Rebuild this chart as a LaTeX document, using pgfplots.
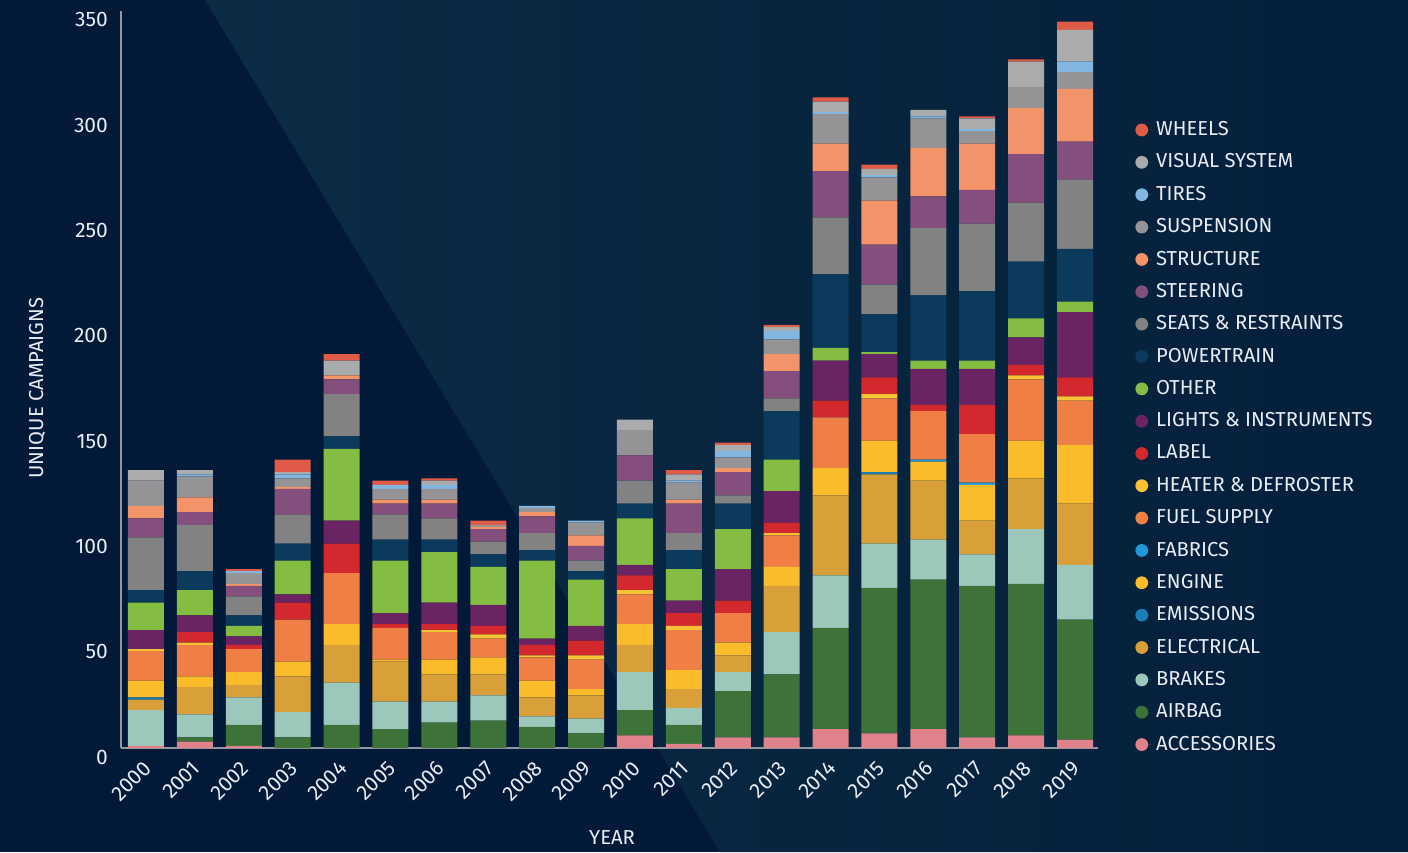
\documentclass[border=0pt]{standalone}
\usepackage{fontspec}
\setmainfont{Fira Sans}
\usepackage{pgfplots}
\usepackage{pgfplotstable}
\pgfplotsset{compat=1.18}
\definecolor{bgdark}{HTML}{021A38}
\definecolor{bglight}{HTML}{0C2B45}
\definecolor{bgright}{HTML}{041F3B}
\definecolor{axisgray}{HTML}{9297A0}
\definecolor{txt}{HTML}{E8EDF3}
\definecolor{cAcc}{HTML}{E0828C}
\definecolor{cAir}{HTML}{3D7239}
\definecolor{cBrk}{HTML}{9BC8BB}
\definecolor{cEle}{HTML}{D9A03A}
\definecolor{cEmi}{HTML}{1C7EB4}
\definecolor{cEng}{HTML}{FBBC2C}
\definecolor{cFab}{HTML}{2196DA}
\definecolor{cFue}{HTML}{EF7F45}
\definecolor{cHea}{HTML}{F9C235}
\definecolor{cLab}{HTML}{D3282D}
\definecolor{cLig}{HTML}{6B2463}
\definecolor{cOth}{HTML}{84BD42}
\definecolor{cPow}{HTML}{0B3A5D}
\definecolor{cSea}{HTML}{828282}
\definecolor{cSte}{HTML}{844E7D}
\definecolor{cStr}{HTML}{F39369}
\definecolor{cSus}{HTML}{949496}
\definecolor{cTir}{HTML}{84B6E2}
\definecolor{cVis}{HTML}{AAABAD}
\definecolor{cWhe}{HTML}{E05A48}
\pgfplotstableread{
x  acc air brk ele emi eng fab fue hea lab lig oth pow sea ste str sus tir vis whe
0  1   0   17  5   1   8   0   14  1   0   9   13  6   25  9   6   12  0   5   0
1  3   2   11  13  0   5   0   15  1   5   8   12  9   22  6   7   10  1   2   0
2  1   10  13  6   0   6   0   11  0   2   4   5   5   9   5   1   5   1   0   1
3  0   5   12  17  0   7   0   20  0   8   4   16  8   14  12  1   4   2   1   6
4  0   11  20  18  0   10  0   24  0   14  11  34  6   20  7   2   0   0   7   3
5  0   9   13  19  0   1   0   15  0   2   5   25  10  12  5   2   5   2   0   2
6  0   12  10  13  0   7   0   13  1   3   10  24  6   10  7   2   5   2   2   1
7  0   13  12  10  0   8   0   9   2   4   10  18  6   6   6   1   1   0   0   2
8  0   10  5   9   0   8   0   11  1   5   3   37  5   8   8   2   2   1   0   0
9  0   7   7   11  0   3   0   14  2   7   7   22  4   5   7   5   6   1   0   0
10 6   12  18  13  0   10  0   14  2   7   5   22  7   11  12  0   12  0   5   0
11 2   9   8   9   0   9   0   19  2   6   6   15  9   8   14  2   8   1   3   2
12 5   22  9   8   0   6   0   14  0   6   15  19  12  4   11  2   5   3   3   1
13 5   30  20  22  0   9   0   15  1   5   15  15  23  6   13  8   7   4   2   1
14 9   48  25  38  0   13  0   24  0   8   19  6   35  27  22  13  14  1   5   2
15 7   69  21  33  1   15  0   20  2   8   11  1   18  14  19  21  11  1   3   2
16 9   71  19  28  0   9   1   23  0   3   17  4   31  32  15  23  14  1   3   0
17 5   72  15  16  0   17  1   23  0   14  17  4   33  32  16  22  6   1   5   1
18 6   72  26  24  0   18  0   29  2   5   13  9   27  28  23  22  10  0   12  1
19 4   57  26  29  0   28  0   21  2   9   31  5   25  33  18  25  8   5   15  4
}\data
\begin{document}
\begin{tikzpicture}
\fill[bgdark] (0,0) rectangle (704pt,426pt);
\begin{scope}
\clip (102.5pt,426pt) -- (704pt,426pt) -- (704pt,0pt) -- (360pt,0pt) -- cycle;
\shade[left color=bglight, right color=bgright] (102.5pt,0pt) rectangle (704pt,426pt);
\end{scope}
\path[use as bounding box] (0,0) rectangle (704pt,426pt);
\begin{axis}[
  at={(60.5pt,52pt)}, anchor=south west,
  scale only axis, width=488.5pt, height=368.5pt,
  xmin=-0.511, xmax=19.47, ymin=0, ymax=350,
  ybar stacked, bar width=18pt,
  axis lines=left,
  axis line style={-, draw=axisgray, line width=1pt},
  major tick length=0pt,
  ytick={0,50,...,350},
  xtick={0,...,19},
  xticklabels={2000,2001,2002,2003,2004,2005,2006,2007,2008,2009,2010,2011,2012,2013,2014,2015,2016,2017,2018,2019},
  /pgf/number format/assume math mode=true,
  tick label style={font=\fontsize{10.5}{12}\selectfont, text=txt},
  yticklabel style={xshift=-3pt, yshift=-4.5pt},
  xticklabel style={xshift=3.2pt, yshift=-6pt, rotate=45, anchor=east},
  reverse legend,
  legend cell align=left,
  legend style={at={(1.0317,0.8616)}, anchor=north west, draw=none, fill=none,
    text=txt, font=\fontsize{10.1}{11}\selectfont, row sep=3.6pt},
  legend image code/.code={\fill[#1,draw=none] (0pt,0pt) circle (3.2pt); \path (3.2pt,0pt) -- (5.2pt,0pt);},
]
\addplot[fill=cAcc,draw=none] table[x=x,y=acc]{\data};
\addplot[fill=cAir,draw=none] table[x=x,y=air]{\data};
\addplot[fill=cBrk,draw=none] table[x=x,y=brk]{\data};
\addplot[fill=cEle,draw=none] table[x=x,y=ele]{\data};
\addplot[fill=cEmi,draw=none] table[x=x,y=emi]{\data};
\addplot[fill=cEng,draw=none] table[x=x,y=eng]{\data};
\addplot[fill=cFab,draw=none] table[x=x,y=fab]{\data};
\addplot[fill=cFue,draw=none] table[x=x,y=fue]{\data};
\addplot[fill=cHea,draw=none] table[x=x,y=hea]{\data};
\addplot[fill=cLab,draw=none] table[x=x,y=lab]{\data};
\addplot[fill=cLig,draw=none] table[x=x,y=lig]{\data};
\addplot[fill=cOth,draw=none] table[x=x,y=oth]{\data};
\addplot[fill=cPow,draw=none] table[x=x,y=pow]{\data};
\addplot[fill=cSea,draw=none] table[x=x,y=sea]{\data};
\addplot[fill=cSte,draw=none] table[x=x,y=ste]{\data};
\addplot[fill=cStr,draw=none] table[x=x,y=str]{\data};
\addplot[fill=cSus,draw=none] table[x=x,y=sus]{\data};
\addplot[fill=cTir,draw=none] table[x=x,y=tir]{\data};
\addplot[fill=cVis,draw=none] table[x=x,y=vis]{\data};
\addplot[fill=cWhe,draw=none] table[x=x,y=whe]{\data};
\legend{ACCESSORIES,AIRBAG,BRAKES,ELECTRICAL,EMISSIONS,ENGINE,FABRICS,FUEL SUPPLY,HEATER \& DEFROSTER,LABEL,LIGHTS \& INSTRUMENTS,OTHER,POWERTRAIN,SEATS \& RESTRAINTS,STEERING,STRUCTURE,SUSPENSION,TIRES,VISUAL SYSTEM,WHEELS}
\end{axis}
\node[rotate=90, text=txt, font=\fontsize{10.1}{11}\selectfont] at (18.5pt,232pt) {UNIQUE CAMPAIGNS};
\node[text=txt, font=\fontsize{10.1}{11}\selectfont] at (306pt,7pt) {YEAR};
\end{tikzpicture}
\end{document}
